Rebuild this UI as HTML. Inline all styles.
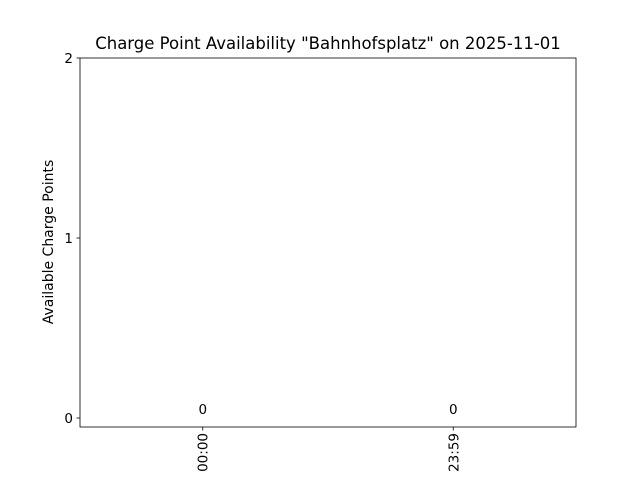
<!DOCTYPE html>
<html><head><meta charset="utf-8"><style>
body{margin:0;background:#fff;}
svg{display:block;font-family:"DejaVu Sans","Liberation Sans",sans-serif;}
</style></head><body>
<svg id="chart" width="640" height="480" xmlns="http://www.w3.org/2000/svg">
<rect width="640" height="480" fill="#fff"/>
<text x="328" y="49" text-anchor="middle" font-size="16.5">Charge Point Availability "Bahnhofsplatz" on 2025-11-01</text>
<text transform="translate(53,242) rotate(-90)" text-anchor="middle" font-size="14">Available Charge Points</text>
<g id="plot"></g>
<rect x="80" y="58" width="496" height="369" fill="none" stroke="#000" stroke-width="0.8"/>
</svg>
<script>
const categories = ["00:00", "23:59"];
const values = [0, 0];
const yTicks = [0, 1, 2];

const L=80,R=576,T=58,B=427;
const xMin=-0.49,xMax=1.49,yMin=-0.05,yMax=2;
const xs=i=>L+(i-xMin)/(xMax-xMin)*(R-L);
const ys=v=>B-(v-yMin)/(yMax-yMin)*(B-T);
const NS="http://www.w3.org/2000/svg";
const g=document.getElementById('plot');
function mk(tag,attrs,text){const e=document.createElementNS(NS,tag);for(const k in attrs)e.setAttribute(k,attrs[k]);if(text!==undefined)e.textContent=text;g.appendChild(e);return e;}
yTicks.forEach(t=>{
  const y=ys(t);
  const l=mk('line',{x1:L-3.5,x2:L,y1:y,y2:y,stroke:'#000','stroke-width':0.8});
  
  
  const tx=mk('text',{x:L-7,y:y+5,'text-anchor':'end','font-size':13.5},String(t));
  
  
});
categories.forEach((c,i)=>{
  const x=xs(i);
  const l=mk('line',{x1:x,x2:x,y1:B,y2:B+3.5,stroke:'#000','stroke-width':0.8});
  
  
  const tx=mk('text',{transform:`translate(${x+5},${B+6}) rotate(-90)`,'text-anchor':'end','font-size':13.5},c);
  
  
  const bh=Math.abs(ys(values[i])-ys(0));
  const bar=mk('rect',{x:x-0.4*(xs(1)-xs(0)),y:Math.min(ys(values[i]),ys(0)),width:0.8*(xs(1)-xs(0)),height:bh,fill:'#1f77b4'});
  
  
  const vl=mk('text',{x:x,y:ys(values[i])-4,'text-anchor':'middle','font-size':13.5},String(values[i]));
  
  
});
</script>
</body></html>
